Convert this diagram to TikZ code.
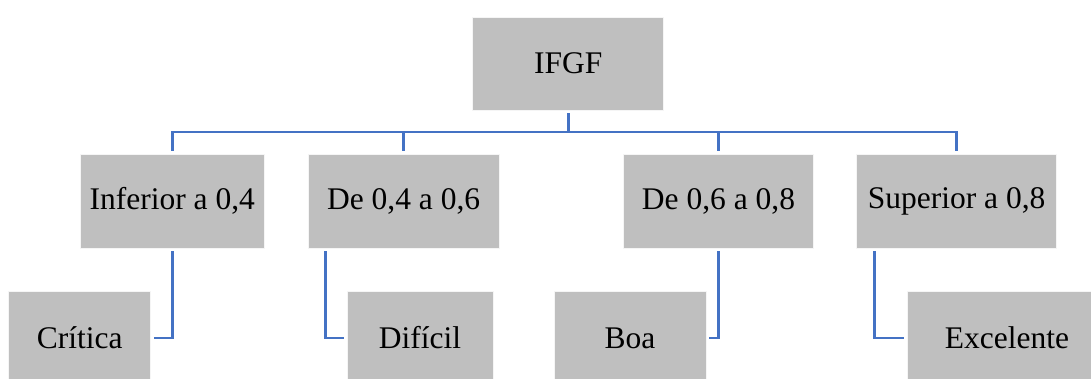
\documentclass[tikz,border=0pt]{standalone}
\usepackage{fontspec}
\setmainfont{Liberation Serif}
\definecolor{boxgray}{HTML}{BFBFBF}
\definecolor{connblue}{HTML}{4472C4}
\begin{document}
\begin{tikzpicture}[x=1pt,y=-1pt,
  box/.style={fill=boxgray,draw=white!85!boxgray,line width=0.8pt,inner sep=0pt,
    minimum height=94pt,font=\fontsize{31.5}{36}\selectfont},
  conn/.style={draw=connblue,line width=2.6pt}]
\clip (0,0) rectangle (1091,379);
\useasboundingbox (0,0) rectangle (1091,379);
% top
\node[box,minimum width=191pt,minimum height=93pt] (ifgf) at (568.2,63.5) {IFGF};
% level 2
\node[box,minimum width=184.5pt] (inf) at (172.25,201) {Inferior a 0,4};
\node[box,minimum width=191.3pt] (d46) at (403.6,201) {De 0,4 a 0,6};
\node[box,minimum width=189.8pt] (d68) at (718.5,201) {De 0,6 a 0,8};
\node[box,minimum width=200pt] (sup) at (956.6,201) {Superior a 0,8};
% level 3
\node[box,minimum width=142.2pt] (crit) at (79.7,338) {Crítica};
\node[box,minimum width=146pt] (dif) at (420,338) {Difícil};
\node[box,minimum width=152pt] (boa) at (630,338) {Boa};
\node[box,minimum width=200pt] (exc) at (1007,338) {Excelente};
% bus
\coordinate (bus) at (0,132);
\draw[conn] ([yshift=-3pt]ifgf.south) -- (ifgf.south |- bus);
\draw[conn] ([yshift=3pt]inf.north) -- (inf.north |- bus) -- (sup.north |- bus) -- ([yshift=3pt]sup.north);
\draw[conn] ([yshift=3pt]d46.north) -- (d46.north |- bus);
\draw[conn] ([yshift=3pt]d68.north) -- (d68.north |- bus);
% elbows
\draw[conn] ([yshift=-3pt]inf.south) |- ([xshift=3pt]crit.east);
\draw[conn] ([xshift=18pt,yshift=-3pt]d46.south west) |- ([xshift=-3pt]dif.west);
\draw[conn] ([yshift=-3pt]d68.south) |- ([xshift=3pt]boa.east);
\draw[conn] ([xshift=18.4pt,yshift=-3pt]sup.south west) |- ([xshift=-3pt]exc.west);
\end{tikzpicture}
\end{document}
